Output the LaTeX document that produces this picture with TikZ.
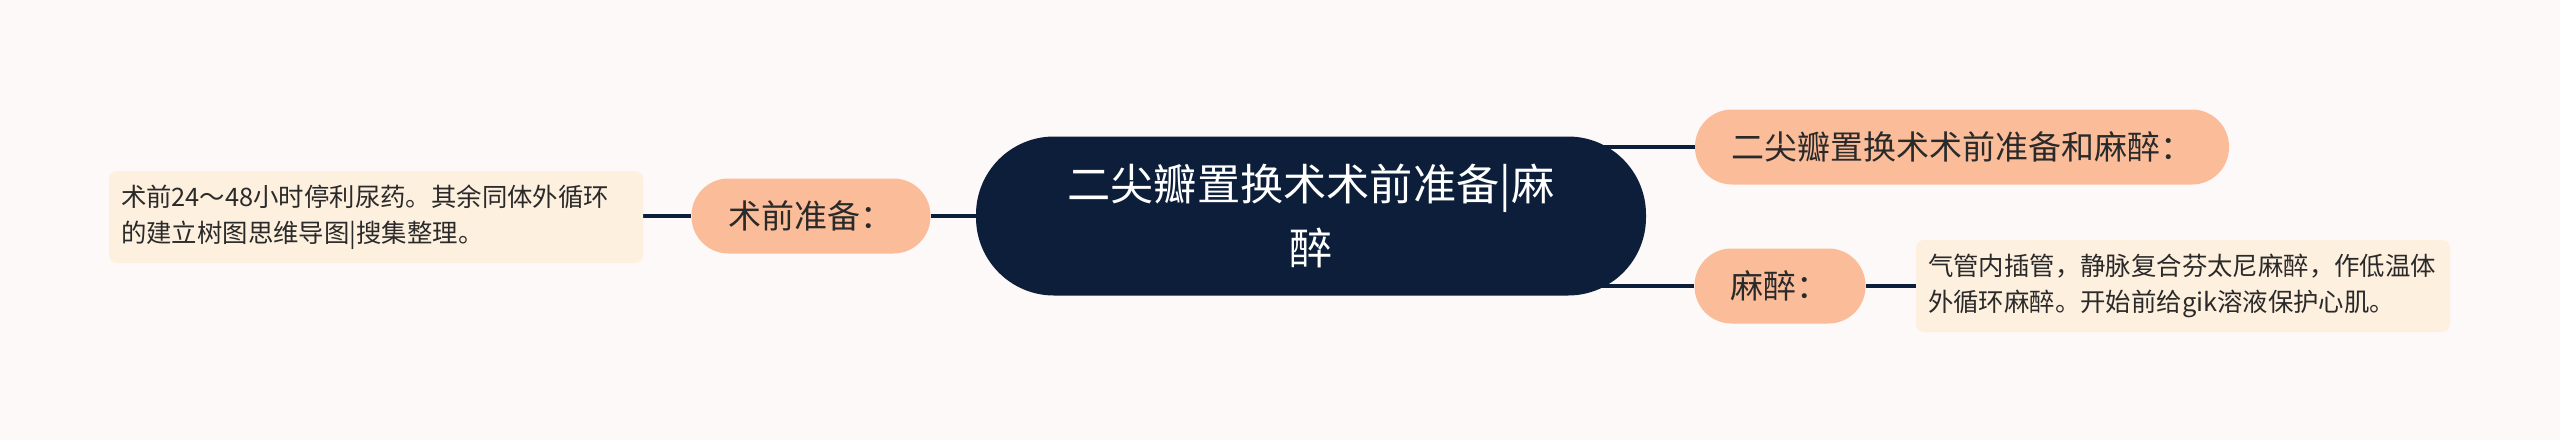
\documentclass[tikz,border=0pt]{standalone}
\usepackage{fontspec}
\setmainfont{Noto Sans CJK SC}
\usetikzlibrary{backgrounds}
\definecolor{navy}{HTML}{0C1E3A}
\definecolor{peach}{HTML}{FBBD99}
\definecolor{cream}{HTML}{FEF0DF}
\definecolor{bgc}{HTML}{FDF9F8}
\definecolor{ink}{HTML}{2A2A2A}
\tikzset{
  rootbox/.style={fill=navy, text=white, rounded corners=39pt, minimum width=335pt, minimum height=79.5pt, inner sep=0pt, align=center, font=\fontsize{21.6pt}{32pt}\selectfont},
  midbox/.style={fill=peach, text=ink, rounded corners=18.5pt, minimum height=37.5pt, inner sep=0pt, font=\fontsize{16.5pt}{20pt}\selectfont},
  leafbox/.style={fill=cream, text=ink, rounded corners=4pt, text width=255pt, inner xsep=6pt, inner ysep=0pt, minimum height=46pt, align=left, font=\fontsize{12.7pt}{18pt}\selectfont},
  link/.style={draw=navy, line width=1.9pt}
}
\begin{document}
\begin{tikzpicture}[x=0.5pt,y=-0.5pt]
\useasboundingbox (0,0) rectangle (2560,440);
\node[rootbox] (root) at (1311,216) {二尖瓣置换术术前准备|麻\\醉};
\node[midbox, minimum width=267pt] (top) at (1962,147) {二尖瓣置换术术前准备和麻醉：};
\node[midbox, minimum width=85.5pt] (ma) at (1780,286) {麻醉：};
\node[midbox, minimum width=119.5pt] (pre) at (811,216) {术前准备：};
\node[leafbox] (leafL) at (376,217) {术前24～48小时停利尿药。其余同体外循环\\的建立树图思维导图|搜集整理。};
\node[leafbox] (leafR) at (2183,286) {气管内插管，静脉复合芬太尼麻醉，作低温体\\外循环麻醉。开始前给gik溶液保护心肌。};
\begin{pgfonlayer}{background}
\fill[bgc] (0,0) rectangle (2560,440);
\draw[link] (root.center |- top.west) -- (top.west);
\draw[link] (root.center |- ma.west) -- (ma.west);
\draw[link] (root.center) -- (pre.east);
\draw[link] (pre.west) -- (pre.west -| leafL.east);
\draw[link] (ma.east) -- (ma.east -| leafR.west);
\end{pgfonlayer}
\end{tikzpicture}
\end{document}
